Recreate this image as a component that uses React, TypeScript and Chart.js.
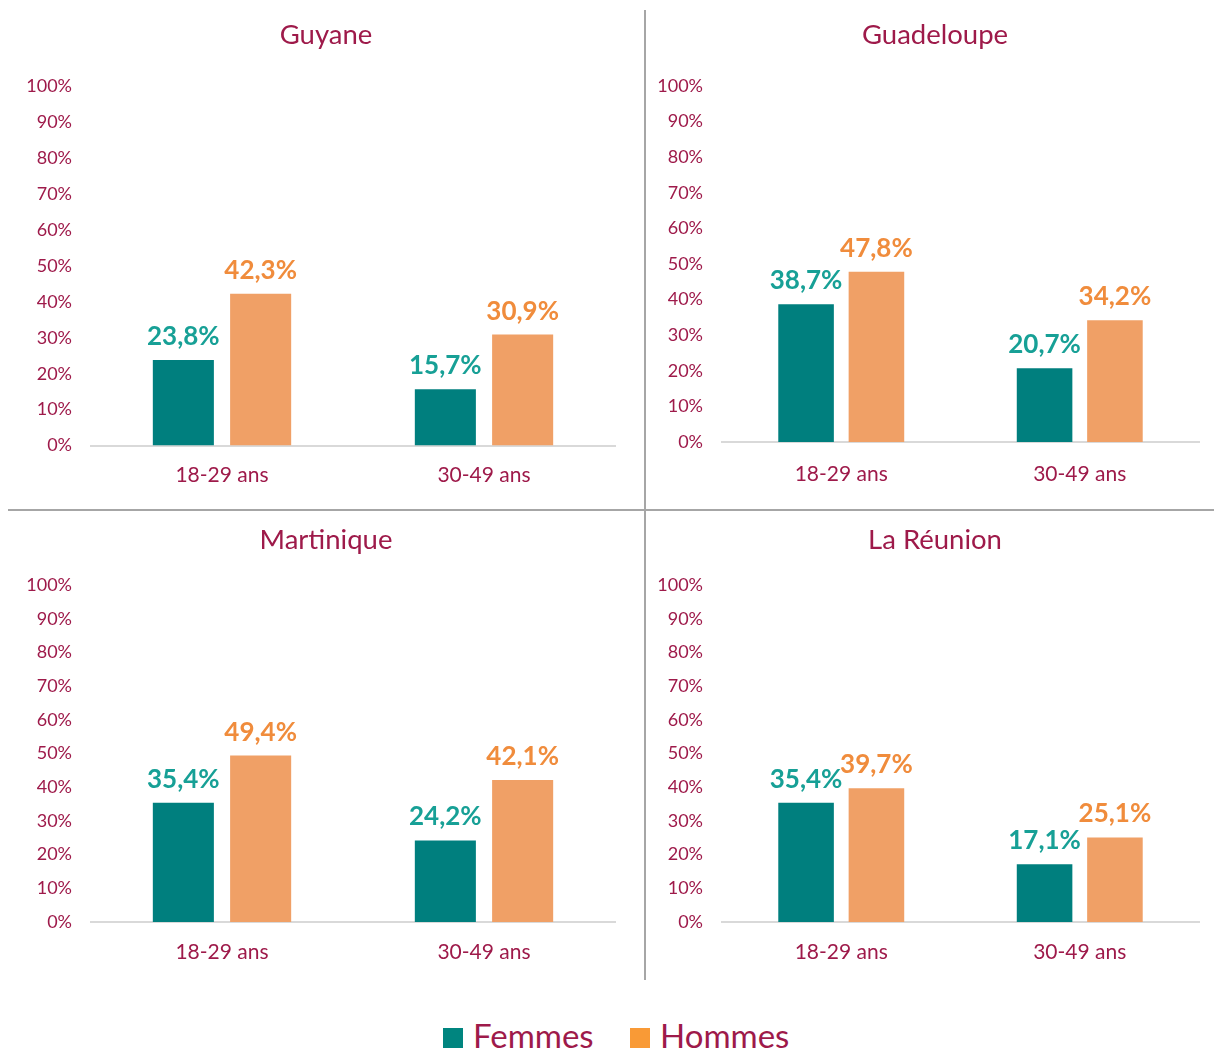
import React, { useEffect, useRef } from "react";
import { Chart, registerables } from "chart.js";

Chart.register(...registerables);

// ---------- DATA ----------
const categories = ["18-29 ans", "30-49 ans"];
const seriesNames = ["Femmes", "Hommes"];
const regions = ["Guyane", "Guadeloupe", "Martinique", "La Réunion"];
const guyaneFemmes = [23.8, 15.7];
const guyaneHommes = [42.3, 30.9];
const guadeloupeFemmes = [38.7, 20.7];
const guadeloupeHommes = [47.8, 34.2];
const martiniqueFemmes = [35.4, 24.2];
const martiniqueHommes = [49.4, 42.1];
const reunionFemmes = [35.4, 17.1];
const reunionHommes = [39.7, 25.1];
const yMin = 0;
const yMax = 100;
const yStep = 10;

// ---------- STYLE ----------
const FONT = "Lato, 'Noto Sans', sans-serif";
const WINE = "#9E1A4A";
const barColors = ["#007F7E", "#F0A066"];
const valueColors = ["#17A096", "#F08C3C"];
const legendColors = ["#00857F", "#F99A36"];

// layout of the four panels (page coordinates)
const panelLayouts = [
  { left: 0, top: 0, width: 640, height: 508, areaLeft: 91, areaRight: 615, titleX: 326, titleY: 35, areaTop: 86.5, areaBottom: 445.5, labelY: 475 },
  { left: 650, top: 0, width: 564, height: 508, areaLeft: 722, areaRight: 1199, titleX: 935, titleY: 35, areaTop: 86, areaBottom: 442, labelY: 474 },
  { left: 0, top: 512, width: 640, height: 480, areaLeft: 91, areaRight: 615, titleX: 326, titleY: 540, areaTop: 585, areaBottom: 922, labelY: 952 },
  { left: 650, top: 512, width: 564, height: 480, areaLeft: 722, areaRight: 1199, titleX: 935, titleY: 540, areaTop: 585, areaBottom: 922, labelY: 952 },
];

const panelData = [
  { title: regions[0], femmes: guyaneFemmes, hommes: guyaneHommes },
  { title: regions[1], femmes: guadeloupeFemmes, hommes: guadeloupeHommes },
  { title: regions[2], femmes: martiniqueFemmes, hommes: martiniqueHommes },
  { title: regions[3], femmes: reunionFemmes, hommes: reunionHommes },
];

const TITLE_SIZE = 27.5;
const TICK_SIZE = 18;
const XLABEL_SIZE = 21;
const VALUE_SIZE = 26;
const LH = 1.2;

const valueLabelsPlugin = {
  id: "valueLabels",
  afterDatasetsDraw(chart: any) {
    const ctx = chart.ctx;
    chart.data.datasets.forEach((ds: any, i: number) => {
      const meta = chart.getDatasetMeta(i);
      meta.data.forEach((bar: any, j: number) => {
        const v = ds.data[j] as number;
        ctx.save();
        ctx.font = `bold ${VALUE_SIZE}px ${FONT}`;
        ctx.fillStyle = valueColors[i];
        ctx.textAlign = "center";
        ctx.textBaseline = "alphabetic";
        ctx.fillText(v.toFixed(1).replace(".", ",") + "%", bar.x, bar.y - 15);
        ctx.restore();
      });
    });
  },
};

// panel title drawn at a chosen centre (the source centres it over the whole panel, not the plot)
const panelTitlePlugin = {
  id: "panelTitle",
  afterDraw(chart: any, _args: any, opts: any) {
    const ctx = chart.ctx;
    ctx.save();
    ctx.font = `${TITLE_SIZE}px ${FONT}`;
    ctx.fillStyle = WINE;
    ctx.textAlign = "center";
    ctx.textBaseline = "middle";
    ctx.fillText(opts.text, opts.x, opts.y);
    ctx.restore();
  },
};

function Panel({ idx }: { idx: number }) {
  const ref = useRef<HTMLCanvasElement | null>(null);
  const L = panelLayouts[idx];
  const D = panelData[idx];

  useEffect(() => {
    if (!ref.current) return;
    const xLabelH = XLABEL_SIZE * LH;
    const xTickPad = L.labelY - L.areaBottom - xLabelH / 2;
    const bottomPad = Math.max(0, L.top + L.height - L.areaBottom - 2 * xTickPad - xLabelH);
    const rightPad = L.left + L.width - L.areaRight;
    const topPad = L.areaTop - L.top;
    const yAxisWidth = L.areaLeft - L.left;

    const chart = new Chart(ref.current, {
      type: "bar",
      data: {
        labels: categories,
        datasets: [
          {
            label: seriesNames[0],
            data: D.femmes,
            backgroundColor: barColors[0],
            categoryPercentage: 0.59,
            barPercentage: 0.79,
          },
          {
            label: seriesNames[1],
            data: D.hommes,
            backgroundColor: barColors[1],
            categoryPercentage: 0.59,
            barPercentage: 0.79,
          },
        ],
      },
      options: {
        responsive: false,
        animation: false,
        devicePixelRatio: 1,
        layout: { padding: { left: 0, right: rightPad, top: topPad, bottom: bottomPad } },
        plugins: {
          legend: { display: false },
          tooltip: { enabled: false },
          title: { display: false },
          panelTitle: { text: D.title, x: L.titleX - L.left, y: L.titleY - L.top },
        } as any,
        scales: {
          x: {
            grid: { display: false, drawTicks: false },
            border: { display: true, color: "#D9D9D9", width: 2 },
            ticks: {
              color: WINE,
              padding: xTickPad,
              font: { family: FONT, size: XLABEL_SIZE, lineHeight: LH },
            },
          },
          y: {
            min: yMin,
            max: yMax,
            afterFit: (scale: any) => {
              scale.width = yAxisWidth;
            },
            grid: { display: false, drawTicks: false },
            border: { display: false },
            ticks: {
              stepSize: yStep,
              color: WINE,
              padding: 19,
              font: { family: FONT, size: TICK_SIZE, lineHeight: LH },
              callback: (v: any) => `${v}%`,
            },
          },
        },
      },
      plugins: [valueLabelsPlugin, panelTitlePlugin],
    });
    return () => chart.destroy();
  }, []);

  return (
    <canvas
      ref={ref}
      width={L.width}
      height={L.height}
      style={{ position: "absolute", left: L.left, top: L.top, width: L.width, height: L.height }}
    />
  );
}

export default function App() {
  return (
    <div
      style={{
        position: "absolute",
        left: 0,
        top: 0,
        width: 1214,
        height: 1052,
        background: "#ffffff",
        overflow: "hidden",
        fontFamily: FONT,
      }}
    >
      {panelLayouts.map((_, i) => (
        <Panel key={i} idx={i} />
      ))}
      {/* dividers */}
      <div style={{ position: "absolute", left: 644, top: 10, width: 2, height: 970, background: "#A6A6A6" }} />
      <div style={{ position: "absolute", left: 8, top: 509, width: 1206, height: 2, background: "#A6A6A6" }} />
      {/* legend */}
      <div style={{ position: "absolute", left: 443, top: 1028, width: 20, height: 20, background: legendColors[0] }} />
      <span
        style={{ position: "absolute", left: 473, top: 1015, fontSize: 33, lineHeight: "40px", color: WINE, whiteSpace: "nowrap" }}
      >
        {seriesNames[0]}
      </span>
      <div style={{ position: "absolute", left: 630, top: 1028, width: 20, height: 20, background: legendColors[1] }} />
      <span
        style={{ position: "absolute", left: 660, top: 1015, fontSize: 33, lineHeight: "40px", color: WINE, whiteSpace: "nowrap" }}
      >
        {seriesNames[1]}
      </span>
    </div>
  );
}
